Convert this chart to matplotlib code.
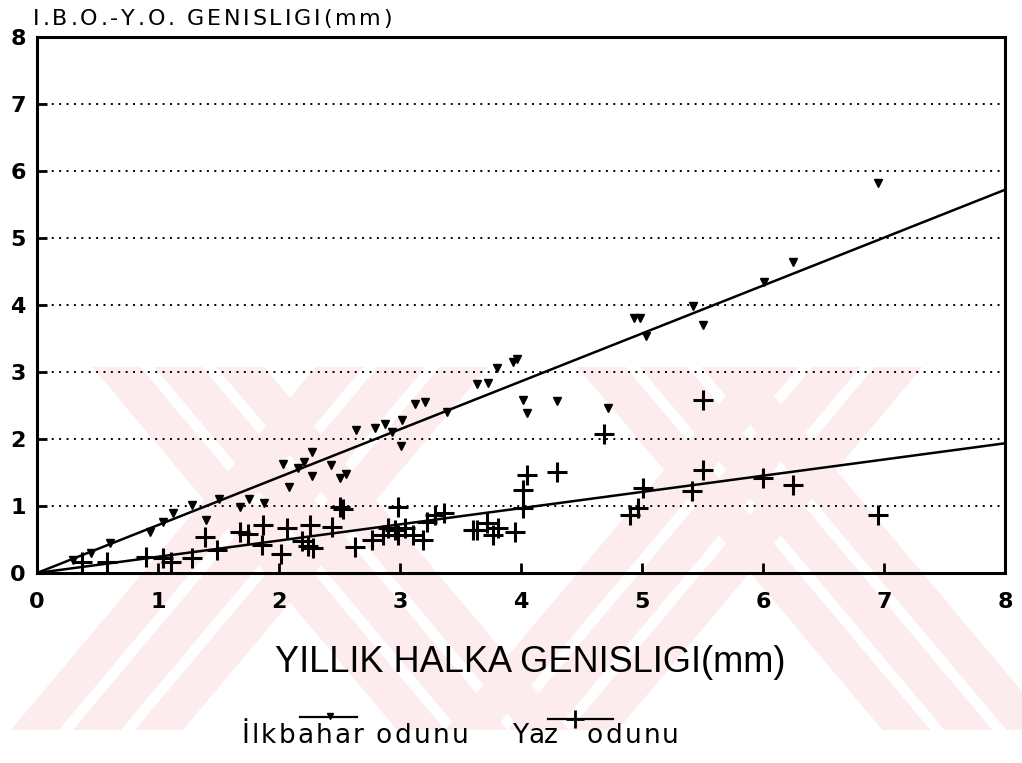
import matplotlib
matplotlib.use("Agg")
import matplotlib.pyplot as plt
from matplotlib.lines import Line2D
from matplotlib.patches import Polygon
from matplotlib.transforms import Affine2D

# spring wood (ilkbahar odunu) widths vs annual ring width, mm
spring_x = [0.30, 0.45, 0.60, 0.93, 1.04, 1.12, 1.28, 1.40, 1.50, 1.68, 1.75, 1.88,
            2.03, 2.08, 2.16, 2.21, 2.27, 2.27, 2.43, 2.50, 2.55, 2.64, 2.79, 2.88,
            2.93, 3.01, 3.02, 3.12, 3.21, 3.39, 3.64, 3.73, 3.80, 3.93, 3.97, 4.02,
            4.05, 4.30, 4.72, 4.93, 4.98, 5.03, 5.42, 5.50, 6.01, 6.25, 6.95]
spring_y = [0.20, 0.30, 0.45, 0.61, 0.76, 0.89, 1.01, 0.79, 1.10, 0.99, 1.10, 1.05,
            1.62, 1.29, 1.57, 1.66, 1.80, 1.45, 1.61, 1.42, 1.48, 2.13, 2.17, 2.23,
            2.10, 1.90, 2.28, 2.52, 2.55, 2.40, 2.82, 2.84, 3.06, 3.15, 3.19, 2.58,
            2.39, 2.57, 2.46, 3.80, 3.80, 3.54, 3.98, 3.70, 4.34, 4.64, 5.82]

# summer wood (yaz odunu) widths
summer_x = [0.37, 0.58, 0.90, 1.04, 1.11, 1.28, 1.39, 1.49, 1.68, 1.74, 1.87, 1.86,
            2.02, 2.07, 2.19, 2.24, 2.28, 2.26, 2.44, 2.50, 2.53, 2.63, 2.77, 2.86,
            2.90, 2.96, 2.98, 2.98, 3.04, 3.11, 3.19, 3.22, 3.29, 3.36, 3.60, 3.64,
            3.72, 3.77, 3.81, 3.95, 4.02, 4.02, 4.05, 4.30, 4.69, 4.90, 4.97, 5.01,
            5.41, 5.50, 5.50, 6.00, 6.25, 6.95]
summer_y = [0.16, 0.16, 0.24, 0.22, 0.16, 0.22, 0.54, 0.35, 0.61, 0.58, 0.71, 0.42,
            0.28, 0.67, 0.48, 0.40, 0.37, 0.71, 0.69, 0.98, 0.95, 0.39, 0.49, 0.57,
            0.67, 0.64, 0.98, 0.57, 0.67, 0.57, 0.49, 0.76, 0.87, 0.90, 0.64, 0.64,
            0.75, 0.57, 0.67, 0.61, 0.97, 1.24, 1.46, 1.51, 2.07, 0.87, 0.97, 1.27,
            1.22, 1.54, 2.58, 1.42, 1.31, 0.87]

# regression lines through the origin
spring_slope = 0.715
summer_slope = 0.242

ticks = [0, 1, 2, 3, 4, 5, 6, 7, 8]

W, H = 1022, 763
fig = plt.figure(figsize=(W / 100, H / 100), dpi=100)
# pixel coordinates, y measured from the top edge
px = Affine2D().scale(1 / W, -1 / H).translate(0, 1) + fig.transFigure

# faint pink stripes of the background stamp
pink = "#fdeced"
for cx, cy in [(290, 500), (750, 470)]:
    for sgn in (1, -1):
        for off in (-62, 0, 62):
            pts = []
            for y, side in [(367, -1), (367, 1), (730, 1), (730, -1)]:
                xc = cx + sgn * 0.84 * (y - cy) + off
                pts.append((xc + side * 24, y))
            fig.add_artist(Polygon(pts, closed=True, transform=px,
                                   facecolor=pink, edgecolor="none", zorder=0))

ax = fig.add_axes([37 / W, 1 - 573 / H, 968 / W, 536 / H])
ax.set_facecolor("none")
ax.set_xlim(0, 8)
ax.set_ylim(0, 8)
ax.set_xticks(ticks)
ax.set_yticks(ticks)
for s in ax.spines.values():
    s.set_linewidth(2.2)
ax.tick_params(direction="in", length=7, width=2, top=False, right=False)
ax.tick_params(axis="x", pad=14)
ax.tick_params(axis="y", pad=8)
for lab in ax.get_xticklabels() + ax.get_yticklabels():
    lab.set_fontfamily("DejaVu Sans")
    lab.set_fontweight("bold")
    lab.set_fontsize(16)
ax.yaxis.grid(True, color="black", linestyle=(0, (1, 2.8)), linewidth=1.4)
ax.set_axisbelow(True)

xs = [0, 8]
ax.plot(xs, [spring_slope * v for v in xs], color="black", lw=1.8)
ax.plot(xs, [summer_slope * v for v in xs], color="black", lw=1.8)
ax.plot(spring_x, spring_y, linestyle="none", marker="v", ms=5.5, color="black")
ax.plot(summer_x, summer_y, linestyle="none", marker="+", ms=15, mew=2.2, color="black")


def spaced_text(x, y, s, width, **kw):
    # draw s one character at a time so it spans the given pixel width
    r = fig.canvas.get_renderer()
    arts = [fig.text(0, 0, ch, transform=px, **kw) for ch in s]
    widths = []
    for ch, t in zip(s, arts):
        if ch == " ":
            widths.append(kw.get("fontsize", 12) * 0.4)
        else:
            widths.append(t.get_window_extent(r).width)
    gap = (width - sum(widths)) / max(len(s) - 1, 1)
    for t, w in zip(arts, widths):
        t.set_position((x, y))
        x += w + gap


spaced_text(33, 25, "I.B.O.-Y.O. GENISLIGI(mm)", 359,
            fontsize=16, family="DejaVu Sans", va="baseline")
fig.text(530, 662, "YILLIK HALKA GENISLIGI(mm)", transform=px, fontsize=26,
         family="Liberation Sans", ha="center", va="center")

# legend drawn below the x axis title
spaced_text(241, 743, "İlkbahar odunu", 227, fontsize=19,
            family="DejaVu Sans", va="baseline")
spaced_text(512, 743, "Yaz", 46, fontsize=19, family="DejaVu Sans", va="baseline")
spaced_text(587, 743, "odunu", 92, fontsize=19, family="DejaVu Sans", va="baseline")
fig.add_artist(Line2D([300, 357], [717, 717], transform=px, color="black", lw=1.6))
fig.add_artist(Line2D([330], [716], transform=px, color="black", marker="v",
                      ms=4, linestyle="none"))
fig.add_artist(Line2D([548, 613], [719, 719], transform=px, color="black", lw=1.6))
fig.add_artist(Line2D([575], [719], transform=px, color="black", marker="+",
                      ms=13, mew=2, linestyle="none"))

fig.savefig("out.png", dpi=100)
